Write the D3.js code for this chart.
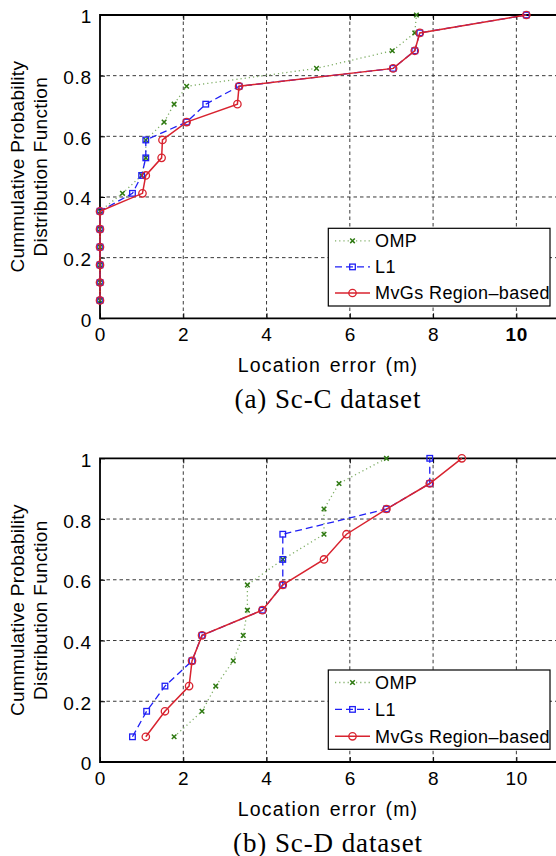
<!DOCTYPE html>
<html>
<head>
<meta charset="utf-8">
<script src="https://cdn.jsdelivr.net/npm/d3@7/dist/d3.min.js"></script>
<style>
  html, body { margin: 0; padding: 0; background: #fff; }
  svg { display: block; }
  text { font-family: "Liberation Sans", Arial, Helvetica, sans-serif; fill: #000; }
  text.caption { font-family: "Liberation Serif", "Times New Roman", serif; }
</style>
</head>
<body>
<svg id="fig" width="556" height="856"></svg>
<script>
// Shared axis setup
const xTicks = [0, 2, 4, 6, 8, 10];
const yTicks = [0, 0.2, 0.4, 0.6, 0.8, 1];
const yTickLabels = ["0", "0.2", "0.4", "0.6", "0.8", "1"];
const seriesNames = ["OMP", "L1", "MvGs Region\u2013based"];

// (a) Sc-C dataset: 17 test locations, error (m) sorted per method
const scC_cdf  = [0.059, 0.118, 0.176, 0.235, 0.294, 0.353, 0.412, 0.471, 0.529, 0.588, 0.647, 0.706, 0.765, 0.824, 0.882, 0.941, 1.0];
const scC_omp  = [0, 0, 0, 0, 0, 0, 0.54, 1.00, 1.10, 1.10, 1.54, 1.78, 2.08, 5.20, 7.02, 7.56, 7.60];
const scC_l1   = [0, 0, 0, 0, 0, 0, 0.78, 1.00, 1.10, 1.10, 2.08, 2.54, 3.34, 7.04, 7.56, 7.68, 10.24];
const scC_mvgs = [0, 0, 0, 0, 0, 0, 1.02, 1.10, 1.48, 1.50, 2.08, 3.30, 3.34, 7.04, 7.56, 7.68, 10.24];

// (b) Sc-D dataset: 12 test locations
const scD_cdf  = [0.083, 0.167, 0.25, 0.333, 0.417, 0.5, 0.583, 0.667, 0.75, 0.833, 0.917, 1.0];
const scD_omp  = [1.78, 2.45, 2.78, 3.20, 3.44, 3.54, 3.54, 4.39, 5.38, 5.38, 5.74, 6.88];
const scD_l1   = [0.78, 1.12, 1.56, 2.21, 2.45, 3.90, 4.39, 4.39, 4.39, 6.88, 7.92, 7.92];
const scD_mvgs = [1.10, 1.56, 2.14, 2.21, 2.45, 3.90, 4.39, 5.38, 5.92, 6.88, 7.92, 8.69];

const panels = [
  { top: 15,    bottom: 318.3, caption: "(a) Sc-C dataset", cdf: scC_cdf,
    series: [scC_omp, scC_l1, scC_mvgs], legendTop: 228.3, legendBottom: 306, heavyTick: 10 },
  { top: 458.3, bottom: 762,   caption: "(b) Sc-D dataset", cdf: scD_cdf,
    series: [scD_omp, scD_l1, scD_mvgs], legendTop: 670, legendBottom: 749.3, heavyTick: null }
];

const styles = [
  { line: "#7fae66", dash: "1.2,3", width: 1.3, marker: "x",      mcolor: "#2f7a12" },
  { line: "#1f1ff5", dash: "7,4",   width: 1.3, marker: "square", mcolor: "#1f1ff5" },
  { line: "#d8232f", dash: null,    width: 1.5, marker: "circle", mcolor: "#d8232f" }
];

const svg = d3.select("#fig");
const left = 100, right = 558;

function drawMarker(g, kind, color, cx, cy) {
  if (kind === "x") {
    const s = 2.3;
    g.append("path").attr("d", `M${cx - s},${cy - s}L${cx + s},${cy + s}M${cx - s},${cy + s}L${cx + s},${cy - s}`)
      .attr("stroke", color).attr("stroke-width", 1.5).attr("fill", "none");
  } else if (kind === "square") {
    const s = 2.8;
    g.append("rect").attr("x", cx - s).attr("y", cy - s).attr("width", 2 * s).attr("height", 2 * s)
      .attr("stroke", color).attr("stroke-width", 1.3).attr("fill", "none");
  } else {
    g.append("circle").attr("cx", cx).attr("cy", cy).attr("r", 3.7)
      .attr("stroke", color).attr("stroke-width", 1.3).attr("fill", "none");
  }
}

panels.forEach(p => {
  const x = d3.scaleLinear().domain([0, 11]).range([left, right]);
  const y = d3.scaleLinear().domain([0, 1]).range([p.bottom, p.top]);
  const g = svg.append("g");

  // dashed grid
  g.append("g").selectAll("line").data(xTicks.filter(t => t > 0)).join("line")
    .attr("x1", d => x(d)).attr("x2", d => x(d)).attr("y1", p.top).attr("y2", p.bottom)
    .attr("stroke", "#222").attr("stroke-width", 0.9).attr("stroke-dasharray", "3.5,3");
  g.append("g").selectAll("line").data(yTicks.filter(t => t > 0 && t < 1)).join("line")
    .attr("x1", left).attr("x2", right).attr("y1", d => y(d)).attr("y2", d => y(d))
    .attr("stroke", "#222").attr("stroke-width", 0.9).attr("stroke-dasharray", "3.5,3");

  // axes (ticks point inward)
  const xAxis = d3.axisBottom(x).tickValues(xTicks).tickSize(-5).tickPadding(8).tickFormat(d3.format("d"));
  const gx = g.append("g").attr("transform", `translate(0,${p.bottom})`).call(xAxis);
  gx.select(".domain").remove();
  gx.selectAll(".tick line").attr("stroke", "#000");
  gx.selectAll(".tick text").attr("font-size", 19).attr("letter-spacing", "0.8px")
    .attr("dy", "0.72em").attr("y", 9)
    .style("font-weight", d => d === p.heavyTick ? "bold" : "normal");

  const gxTop = g.append("g").attr("transform", `translate(0,${p.top})`)
    .call(d3.axisTop(x).tickValues(xTicks).tickSize(-5).tickFormat(""));
  gxTop.select(".domain").remove();
  gxTop.selectAll(".tick line").attr("stroke", "#000");

  const yAxis = d3.axisLeft(y).tickValues(yTicks).tickSize(-5).tickPadding(8)
    .tickFormat((d, i) => yTickLabels[i]);
  const gy = g.append("g").attr("transform", `translate(${left},0)`).call(yAxis);
  gy.select(".domain").remove();
  gy.selectAll(".tick line").attr("stroke", "#000");
  gy.selectAll(".tick text").attr("font-size", 19).attr("letter-spacing", "0.8px")
    .attr("x", -8).attr("dy", "0.42em");

  // box edges: left, bottom, top
  g.append("path")
    .attr("d", `M${right},${p.top}H${left}V${p.bottom}H${right}`)
    .attr("fill", "none").attr("stroke", "#000").attr("stroke-width", 1.8);

  // series lines and markers
  const lineGen = d3.line().x(d => x(d[0])).y(d => y(d[1]));
  p.series.forEach((vals, si) => {
    const st = styles[si];
    const pts = vals.map((v, i) => [v, p.cdf[i]]);
    const sg = g.append("g");
    sg.append("path").datum(pts).attr("d", lineGen)
      .attr("fill", "none").attr("stroke", st.line).attr("stroke-width", st.width)
      .attr("stroke-dasharray", st.dash);
    pts.forEach(d => drawMarker(sg, st.marker, st.mcolor, x(d[0]), y(d[1])));
  });

  // legend
  const lg = g.append("g");
  lg.append("rect").attr("x", 328.3).attr("y", p.legendTop)
    .attr("width", 550 - 328.3).attr("height", p.legendBottom - p.legendTop)
    .attr("fill", "#fff").attr("stroke", "#000").attr("stroke-width", 1.2);
  const rowY = d3.scalePoint().domain(d3.range(seriesNames.length))
    .range([p.legendTop + 12.5, p.legendBottom - 13]);
  seriesNames.forEach((name, si) => {
    const st = styles[si];
    const cy = rowY(si);
    lg.append("line").attr("x1", 335).attr("x2", 370).attr("y1", cy).attr("y2", cy)
      .attr("stroke", st.line).attr("stroke-width", st.width)
      .attr("stroke-dasharray", st.dash);
    drawMarker(lg, st.marker, st.mcolor, 352.5, cy);
    lg.append("text").attr("x", 375).attr("y", cy).attr("dy", "0.36em")
      .attr("font-size", 18).attr("letter-spacing", "0.4px").text(name);
  });

  // x-axis title
  g.append("text").attr("x", 328).attr("y", p.bottom + 53.5).attr("text-anchor", "middle")
    .attr("font-size", 19.5).attr("letter-spacing", "1.2px").attr("word-spacing", "2px")
    .text("Location error (m)");

  // y-axis title (two lines)
  const cy = (p.top + p.bottom) / 2;
  const yt = g.append("text").attr("transform", `translate(24,${cy}) rotate(-90)`)
    .attr("text-anchor", "middle").attr("font-size", 19).attr("letter-spacing", "0.3px");
  yt.append("tspan").attr("x", 0).attr("y", 0).text("Cummulative Probability");
  yt.append("tspan").attr("x", 0).attr("y", 22.5).text("Distribution Function");

  // caption
  g.append("text").attr("class", "caption")
    .attr("x", 328).attr("y", p.bottom + 89.5).attr("text-anchor", "middle")
    .attr("font-size", 27).attr("letter-spacing", "0.9px")
    .text(p.caption);
});
</script>
</body>
</html>
